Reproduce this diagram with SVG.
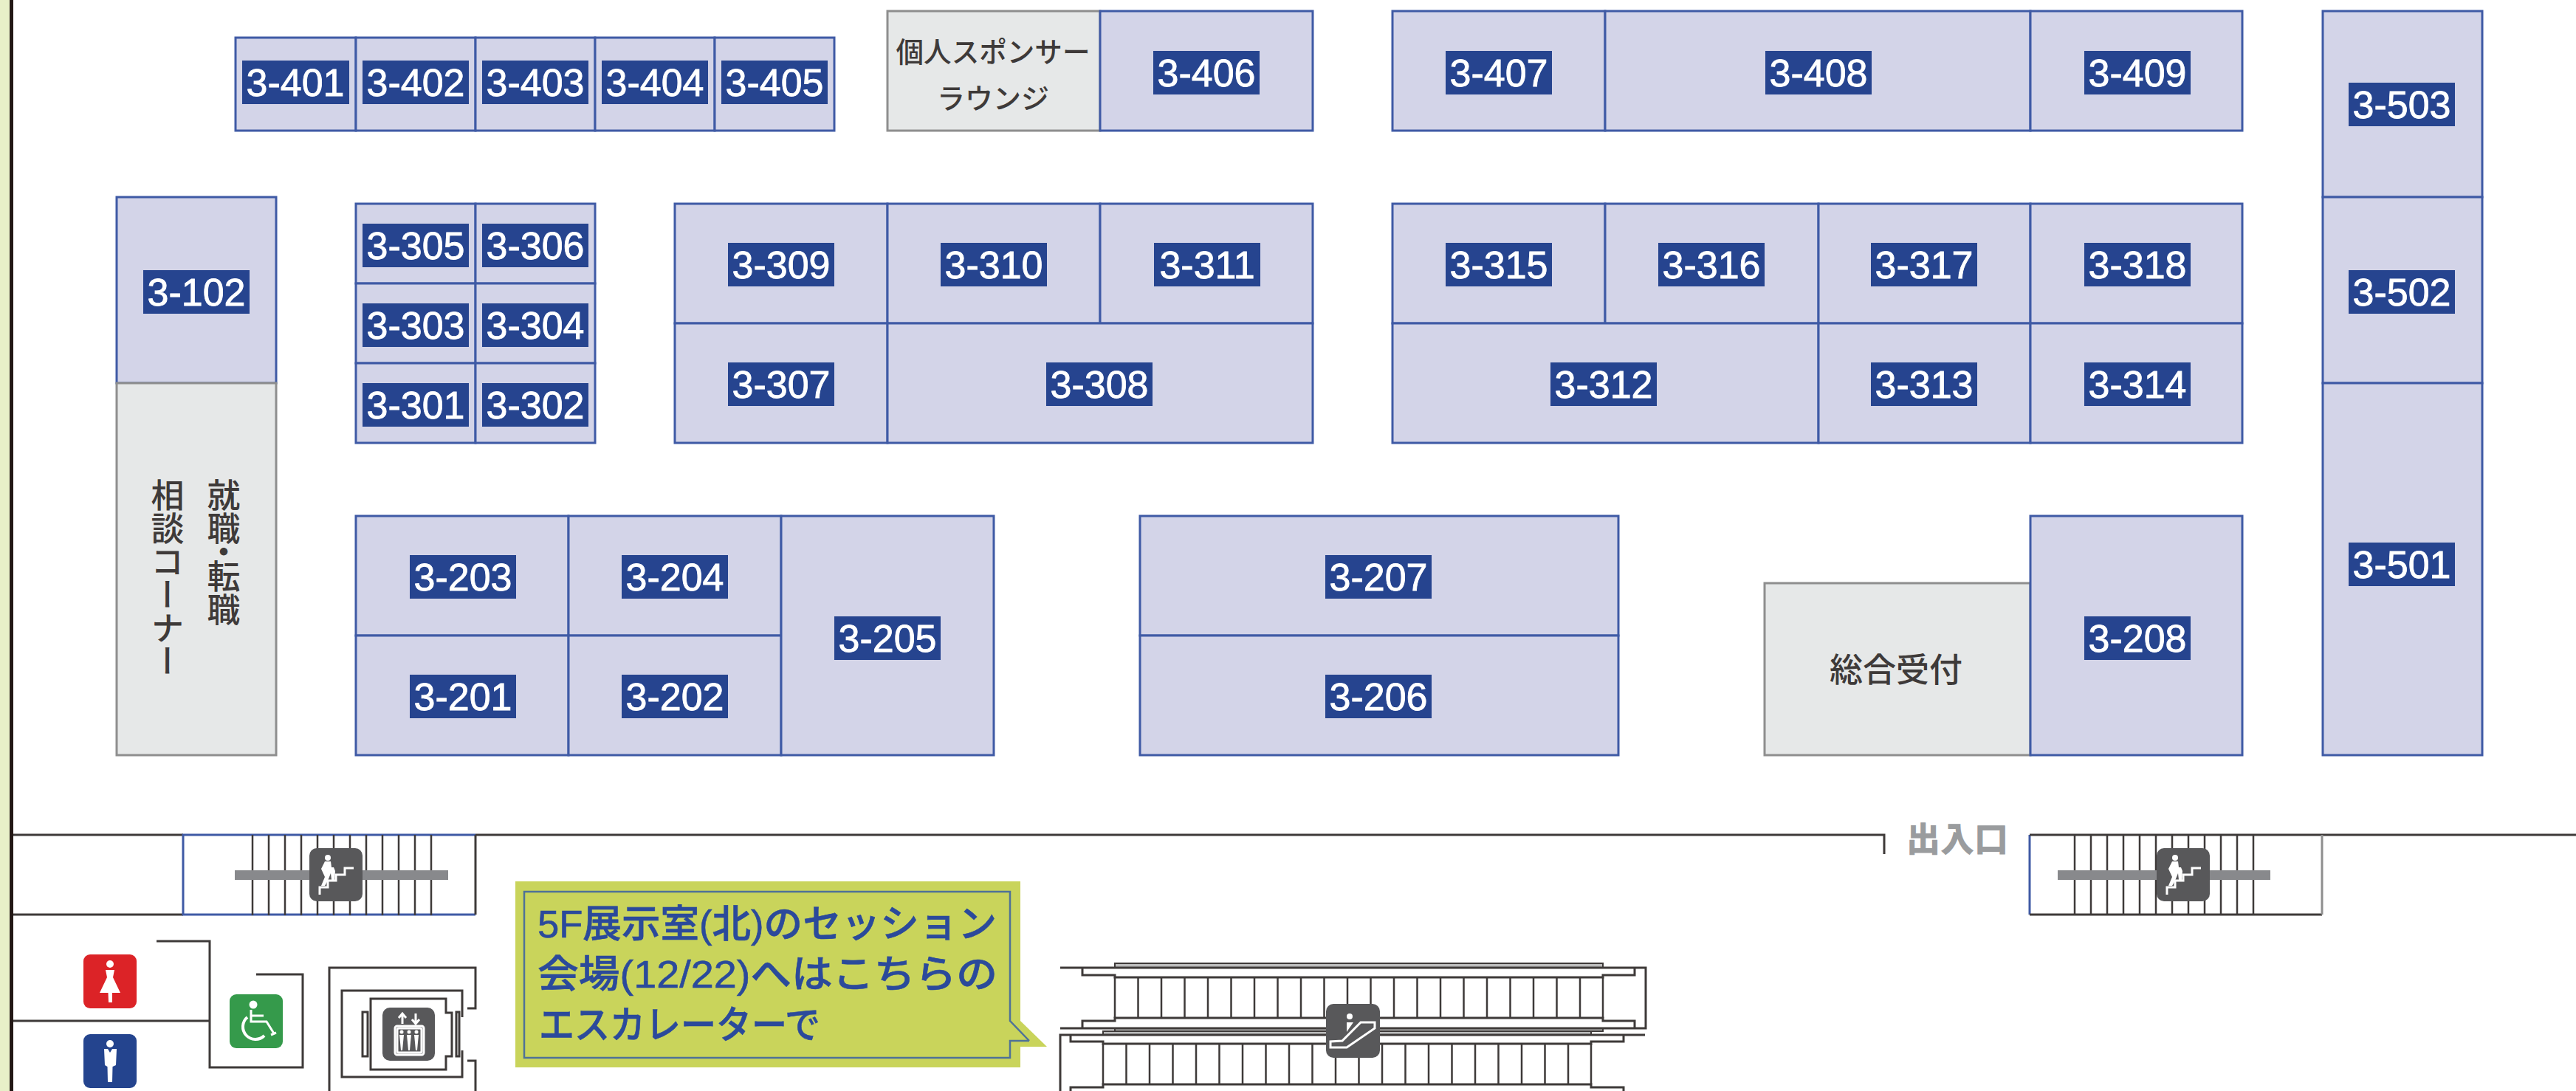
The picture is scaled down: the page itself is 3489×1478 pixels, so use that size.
<svg xmlns="http://www.w3.org/2000/svg" xmlns:xlink="http://www.w3.org/1999/xlink" width="3489" height="1478" viewBox="0 0 3489 1478">
<style>
.b{fill:#d3d4e8;stroke:#3f5aa5;stroke-width:3}
.g{fill:#e6e8e8;stroke:#8e8e8e;stroke-width:3}
.l{fill:#26448f}
.t{font-family:"Liberation Sans",Arial,sans-serif;font-size:52px;fill:#fff;stroke:#fff;stroke-width:.8;text-anchor:middle}
.j{font-family:"Noto Sans CJK JP","Liberation Sans",sans-serif;fill:#3e3a39;font-weight:500}
.w{fill:none;stroke:#3e3a39;stroke-width:3}
.bl{fill:none;stroke:#3f5aa5;stroke-width:3}
.s{stroke:#3e3a39;stroke-width:2.5}
.bar{fill:#88898c}
.dk{fill:#58585a}
.ic{fill:#fff}
.il{fill:none;stroke:#fff;stroke-width:3}
.c{font-family:"Liberation Sans","Noto Sans CJK JP",sans-serif;font-size:52px;fill:#2b4a9b;font-weight:500;stroke:#2b4a9b;stroke-width:.6}
</style>
<defs>
<g id="stairIcon">
<rect width="72" height="72" rx="10" class="dk"/>
<circle cx="25" cy="13" r="4" class="ic"/>
<polygon class="ic" points="21,18 29,18 30,26 33,26 35,31 34,43 30,43 29,34 25,44 21,51 16,51 21,39 16,28"/>
<polyline class="il" stroke-width="2" points="14,63 14,53 25,53 25,44 36,44 36,36 48,36 48,27 60,27"/>
</g>
<g id="steps12" class="s">
<path d="M0 0V109M22 0V109M44 0V109M66 0V109M88 0V109M110 0V109M132 0V109M154 0V109M176 0V109M198 0V109M220 0V109M242 0V109"/>
</g>
<path id="esc" class="s" fill="none" d="M0 0V55M31.5 0V55M63 0V55M94.5 0V55M126 0V55M157.5 0V55M189 0V55M220.5 0V55M252 0V55M283.5 0V55M315 0V55M346.5 0V55M378 0V55M409.5 0V55M441 0V55M472.5 0V55M504 0V55M535.5 0V55M567 0V55M598.5 0V55M630 0V55M661 0V55"/>
</defs>
<rect width="3489" height="1478" fill="#fff"/>
<rect width="13" height="1478" fill="#e8f0c8"/>
<rect x="13" width="5" height="1478" fill="#231815"/>

<g id="r3-401"><rect class="b" x="319" y="51" width="163" height="126"/><rect class="l" x="328" y="82" width="145" height="59"/><text class="t" x="400" y="130">3-401</text></g>
<g id="r3-402"><rect class="b" x="482" y="51" width="162" height="126"/><rect class="l" x="491" y="82" width="144" height="59"/><text class="t" x="563" y="130">3-402</text></g>
<g id="r3-403"><rect class="b" x="644" y="51" width="162" height="126"/><rect class="l" x="653" y="82" width="144" height="59"/><text class="t" x="725" y="130">3-403</text></g>
<g id="r3-404"><rect class="b" x="806" y="51" width="162" height="126"/><rect class="l" x="815" y="82" width="144" height="59"/><text class="t" x="887" y="130">3-404</text></g>
<g id="r3-405"><rect class="b" x="968" y="51" width="162" height="126"/><rect class="l" x="977" y="82" width="144" height="59"/><text class="t" x="1049" y="130">3-405</text></g>

<g id="lounge"><rect class="g" x="1202" y="15" width="288" height="162"/><text class="j" font-size="38" x="1345" y="84" text-anchor="middle" textLength="263" lengthAdjust="spacingAndGlyphs">個人スポンサー</text><text class="j" font-size="38" x="1345" y="147" text-anchor="middle">ラウンジ</text></g>
<g id="r3-406"><rect class="b" x="1490" y="15" width="288" height="162"/><rect class="l" x="1562" y="69" width="144" height="59"/><text class="t" x="1634" y="117">3-406</text></g>
<g id="r3-407"><rect class="b" x="1886" y="15" width="288" height="162"/><rect class="l" x="1958" y="69" width="144" height="59"/><text class="t" x="2030" y="117">3-407</text></g>
<g id="r3-408"><rect class="b" x="2174" y="15" width="576" height="162"/><rect class="l" x="2391" y="69" width="144" height="59"/><text class="t" x="2463" y="117">3-408</text></g>
<g id="r3-409"><rect class="b" x="2750" y="15" width="287" height="162"/><rect class="l" x="2823" y="69" width="144" height="59"/><text class="t" x="2895" y="117">3-409</text></g>

<g id="r3-503"><rect class="b" x="3146" y="15" width="216" height="252"/><rect class="l" x="3181" y="112" width="144" height="59"/><text class="t" x="3253" y="160">3-503</text></g>
<g id="r3-502"><rect class="b" x="3146" y="267" width="216" height="252"/><rect class="l" x="3181" y="366" width="144" height="59"/><text class="t" x="3253" y="414">3-502</text></g>
<g id="r3-501"><rect class="b" x="3146" y="519" width="216" height="504"/><rect class="l" x="3181" y="735" width="144" height="59"/><text class="t" x="3253" y="783">3-501</text></g>

<g id="r3-102"><rect class="b" x="158" y="267" width="216" height="252"/><rect class="l" x="194" y="366" width="144" height="59"/><text class="t" x="266" y="414">3-102</text></g>
<g id="career"><rect class="g" x="158" y="519" width="216" height="504"/>
<text class="j" font-size="45" style="writing-mode:vertical-rl" x="303" y="648 693 725.5 758 803">就職・転職</text>
<text class="j" font-size="45" style="writing-mode:vertical-rl" x="227" y="648">相談コーナー</text></g>

<g id="r3-305"><rect class="b" x="482" y="276" width="162" height="108"/><rect class="l" x="491" y="303" width="144" height="59"/><text class="t" x="563" y="351">3-305</text></g>
<g id="r3-306"><rect class="b" x="644" y="276" width="162" height="108"/><rect class="l" x="653" y="303" width="144" height="59"/><text class="t" x="725" y="351">3-306</text></g>
<g id="r3-303"><rect class="b" x="482" y="384" width="162" height="108"/><rect class="l" x="491" y="411" width="144" height="59"/><text class="t" x="563" y="459">3-303</text></g>
<g id="r3-304"><rect class="b" x="644" y="384" width="162" height="108"/><rect class="l" x="653" y="411" width="144" height="59"/><text class="t" x="725" y="459">3-304</text></g>
<g id="r3-301"><rect class="b" x="482" y="492" width="162" height="108"/><rect class="l" x="491" y="519" width="144" height="59"/><text class="t" x="563" y="567">3-301</text></g>
<g id="r3-302"><rect class="b" x="644" y="492" width="162" height="108"/><rect class="l" x="653" y="519" width="144" height="59"/><text class="t" x="725" y="567">3-302</text></g>

<g id="r3-309"><rect class="b" x="914" y="276" width="288" height="162"/><rect class="l" x="986" y="329" width="144" height="59"/><text class="t" x="1058" y="377">3-309</text></g>
<g id="r3-310"><rect class="b" x="1202" y="276" width="288" height="162"/><rect class="l" x="1274" y="329" width="144" height="59"/><text class="t" x="1346" y="377">3-310</text></g>
<g id="r3-311"><rect class="b" x="1490" y="276" width="288" height="162"/><rect class="l" x="1563" y="329" width="144" height="59"/><text class="t" x="1635" y="377">3-311</text></g>
<g id="r3-307"><rect class="b" x="914" y="438" width="288" height="162"/><rect class="l" x="986" y="491" width="144" height="59"/><text class="t" x="1058" y="539">3-307</text></g>
<g id="r3-308"><rect class="b" x="1202" y="438" width="576" height="162"/><rect class="l" x="1417" y="491" width="144" height="59"/><text class="t" x="1489" y="539">3-308</text></g>

<g id="r3-315"><rect class="b" x="1886" y="276" width="288" height="162"/><rect class="l" x="1958" y="329" width="144" height="59"/><text class="t" x="2030" y="377">3-315</text></g>
<g id="r3-316"><rect class="b" x="2174" y="276" width="289" height="162"/><rect class="l" x="2246" y="329" width="144" height="59"/><text class="t" x="2318" y="377">3-316</text></g>
<g id="r3-317"><rect class="b" x="2463" y="276" width="287" height="162"/><rect class="l" x="2534" y="329" width="144" height="59"/><text class="t" x="2606" y="377">3-317</text></g>
<g id="r3-318"><rect class="b" x="2750" y="276" width="287" height="162"/><rect class="l" x="2823" y="329" width="144" height="59"/><text class="t" x="2895" y="377">3-318</text></g>
<g id="r3-312"><rect class="b" x="1886" y="438" width="577" height="162"/><rect class="l" x="2100" y="491" width="144" height="59"/><text class="t" x="2172" y="539">3-312</text></g>
<g id="r3-313"><rect class="b" x="2463" y="438" width="287" height="162"/><rect class="l" x="2534" y="491" width="144" height="59"/><text class="t" x="2606" y="539">3-313</text></g>
<g id="r3-314"><rect class="b" x="2750" y="438" width="287" height="162"/><rect class="l" x="2823" y="491" width="144" height="59"/><text class="t" x="2895" y="539">3-314</text></g>

<g id="r3-203"><rect class="b" x="482" y="699" width="288" height="162"/><rect class="l" x="555" y="752" width="144" height="59"/><text class="t" x="627" y="800">3-203</text></g>
<g id="r3-204"><rect class="b" x="770" y="699" width="288" height="162"/><rect class="l" x="842" y="752" width="144" height="59"/><text class="t" x="914" y="800">3-204</text></g>
<g id="r3-201"><rect class="b" x="482" y="861" width="288" height="162"/><rect class="l" x="555" y="914" width="144" height="59"/><text class="t" x="627" y="962">3-201</text></g>
<g id="r3-202"><rect class="b" x="770" y="861" width="288" height="162"/><rect class="l" x="842" y="914" width="144" height="59"/><text class="t" x="914" y="962">3-202</text></g>
<g id="r3-205"><rect class="b" x="1058" y="699" width="288" height="324"/><rect class="l" x="1130" y="835" width="144" height="59"/><text class="t" x="1202" y="883">3-205</text></g>
<g id="r3-207"><rect class="b" x="1544" y="699" width="648" height="162"/><rect class="l" x="1795" y="752" width="144" height="59"/><text class="t" x="1867" y="800">3-207</text></g>
<g id="r3-206"><rect class="b" x="1544" y="861" width="648" height="162"/><rect class="l" x="1795" y="914" width="144" height="59"/><text class="t" x="1867" y="962">3-206</text></g>
<g id="reception"><rect class="g" x="2390" y="790" width="360" height="233"/><text class="j" font-size="45" x="2568" y="924" text-anchor="middle">総合受付</text></g>
<g id="r3-208"><rect class="b" x="2750" y="699" width="287" height="324"/><rect class="l" x="2823" y="835" width="144" height="59"/><text class="t" x="2895" y="883">3-208</text></g>

<g id="walls">
<path class="w" d="M18 1131H248M18 1239H248M644 1131H2552V1157M3145 1131H3489"/>
<path class="bl" d="M644 1131H248V1239H644"/>
<path class="w" d="M644 1131V1239"/>
<path class="bl" d="M2749 1131V1239"/>
<path class="w" d="M2749 1131H3145"/>
<path class="w" d="M3145 1239H2749"/>
<path d="M3145 1131V1239" fill="none" stroke="#8e8e8e" stroke-width="3"/>
<path class="w" d="M212 1275H284V1446H410V1320H347M18 1383H284"/>
<path class="w" d="M446 1478V1311H644V1366H633M633 1437H644V1478"/>
<path class="w" d="M626 1378V1342H463V1459H626V1423"/>
<path class="w" d="M604 1372V1353H502V1449H604V1431H612V1372Z"/>
<rect class="w" x="491" y="1371" width="7" height="60"/>
<rect class="w" x="618" y="1371" width="4" height="60"/>
</g>

<g id="stairs-west">
<use xlink:href="#steps12" href="#steps12" x="342" y="1131"/>
<rect class="bar" x="318" y="1179" width="289" height="13"/>
<use xlink:href="#stairIcon" href="#stairIcon" x="419" y="1149"/>
</g>
<g id="stairs-east">
<use xlink:href="#steps12" href="#steps12" x="2810" y="1131"/>
<rect class="bar" x="2787" y="1179" width="288" height="13"/>
<use xlink:href="#stairIcon" href="#stairIcon" x="2921" y="1149"/>
</g>
<text id="entrance" x="2582" y="1153" font-family="'Noto Sans CJK JP',sans-serif" font-weight="900" font-size="46" fill="#9a9c9e">出入口</text>

<g id="wc-women" transform="translate(113 1293)">
<rect width="72" height="73" rx="9" fill="#dc2327"/>
<circle class="ic" cx="36" cy="13" r="5"/>
<polygon class="ic" points="30,21 42,21 40,31 50,52 39,52 39,65 34,65 33.500,52 22,52 32,31"/>
</g>
<g id="wc-men" transform="translate(113 1401)">
<rect width="72" height="73" rx="9" fill="#24448e"/>
<circle class="ic" cx="36" cy="13" r="5"/>
<polygon class="ic" points="28,20 33,20 36,25 39,20 45,20 44,42 39.500,44 39,65 33,65 32.500,44 29,42"/>
</g>
<g id="wc-access" transform="translate(311 1347)">
<rect width="72" height="73" rx="9" fill="#359a4b"/>
<circle class="ic" cx="32" cy="14" r="5.500"/>
<path class="il" stroke-width="4" d="M29 21V37H50L60 53M29 29H46"/>
<path d="M24 31A17 17 0 1 0 47 56" fill="none" stroke="#fff" stroke-width="4"/>
<path class="il" stroke-width="5" d="M56 55L63 52"/>
</g>
<g id="elevator" transform="translate(518 1365)">
<rect width="71" height="72" rx="10" class="dk"/>
<path class="il" stroke-width="2.500" d="M27 22V9M22 14L27 8L32 14M45 8V21M40 16L45 22L50 16"/>
<rect class="il" stroke-width="2" x="17" y="25" width="39" height="39" rx="3"/>
<rect class="il" stroke-width="1.500" x="20" y="28" width="33" height="33" rx="2"/>
<circle class="ic" cx="26" cy="33" r="2.500"/><circle class="ic" cx="36" cy="33" r="2.500"/><circle class="ic" cx="46" cy="33" r="2.500"/>
<path class="ic" d="M23 37H29L28 47L27 58H25L24 47ZM33 37H39L38 47L37 58H35L34 47ZM43 37H49L48 47L47 58H45L44 47Z"/>
</g>

<g id="escalators">
<rect x="1510" y="1305" width="661" height="6" fill="#bdbdbd" stroke="#3e3a39" stroke-width="2"/>
<rect x="1510" y="1393" width="661" height="4" fill="#bdbdbd" stroke="#3e3a39" stroke-width="2"/>
<rect x="1494" y="1397" width="661" height="5" fill="#bdbdbd" stroke="#3e3a39" stroke-width="2"/>
<path class="w" d="M1436 1311H2229V1393H1436"/>
<path class="w" d="M1466 1311V1321H1510V1324H2171V1321H2214V1311"/>
<path class="w" d="M1466 1393V1383H1510V1379H2171V1383H2214V1393"/>
<use xlink:href="#esc" href="#esc" x="1510" y="1324"/>
<path class="w" d="M1436 1478V1402H2228"/>
<path class="w" d="M1450 1402V1411H1494V1414H2155V1411H2199V1402"/>
<path class="w" d="M1450 1478V1473H1494V1469H2155V1473H2199V1478"/>
<use xlink:href="#esc" href="#esc" x="1494" y="1414"/>
<g transform="translate(1796 1360)">
<rect width="73" height="73" rx="10" class="dk"/>
<circle class="ic" cx="32" cy="17" r="4"/>
<polygon class="ic" points="28,25 37,25 28,38"/>
<path class="il" stroke-width="2.500" d="M6 51V59H28L66 33V25H47L22 50Z"/>
</g>
</g>

<g id="callout">
<polygon fill="#c9d45b" points="698,1194 1382,1194 1382,1383 1418,1418 1382,1418 1382,1446 698,1446"/>
<polyline fill="none" stroke="#4f7297" stroke-width="2.500" points="1394,1410 1368,1410 1368,1433 710,1433 710,1208 1368,1208 1368,1383 1394,1410"/>
<text class="c" x="728" y="1270" textLength="622" lengthAdjust="spacingAndGlyphs">5F展示室(北)のセッション</text>
<text class="c" x="728" y="1338" textLength="623" lengthAdjust="spacingAndGlyphs">会場(12/22)へはこちらの</text>
<text class="c" x="730" y="1407" textLength="381" lengthAdjust="spacingAndGlyphs">エスカレーターで</text>
</g>
</svg>
